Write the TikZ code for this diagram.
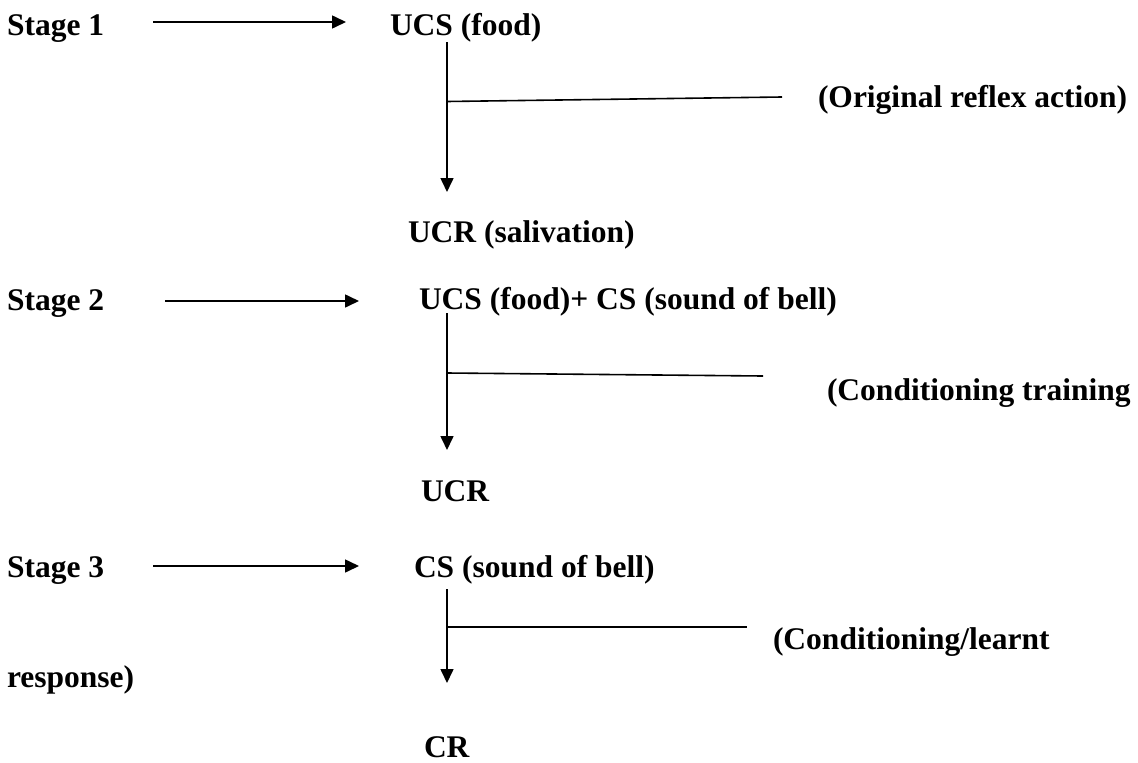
\documentclass[tikz,border=0pt]{standalone}
\usepackage{fontspec}
\setmainfont{Liberation Serif}
\usetikzlibrary{arrows.meta}
\begin{document}
\begin{tikzpicture}[x=1pt,y=-1pt,
  lbl/.style={anchor=base west,inner sep=0pt,outer sep=0pt,font=\fontsize{31.5}{36}\selectfont\bfseries},
  arr/.style={line width=1.6pt,-{Triangle[length=14pt,width=13pt]}},
  plain/.style={line width=1.6pt}]
\useasboundingbox (0,0) rectangle (1138,763);
% Stage 1
\node[lbl] (s1) at (7,35) {Stage 1};
\node[lbl] (ucs1) at (390,35) {UCS (food)};
\node[lbl] (orig) at (818,107) {(Original reflex action)};
\node[lbl] (ucr1) at (408,242) {UCR (salivation)};
\coordinate (a1s) at (153,22);
\coordinate (a1e) at (346,22);
\coordinate (v1s) at (447,42);
\coordinate (v1e) at (447,192);
\coordinate (b1s) at (447,101.5);
\coordinate (b1e) at (782,97);
\draw[arr] (a1s) -- (a1e);
\draw[arr] (v1s) -- (v1e);
\draw[plain] (b1s) -- (b1e);
% Stage 2
\node[lbl] (s2) at (7,310) {Stage 2};
\node[lbl] (ucs2) at (419,309) {UCS (food)+ CS (sound of bell)};
\node[lbl] (cond) at (827,400) {(Conditioning training};
\node[lbl] (ucr2) at (421,501) {UCR};
\coordinate (a2s) at (165,301);
\coordinate (a2e) at (359,301);
\coordinate (v2s) at (447,313);
\coordinate (v2e) at (447,450);
\coordinate (b2s) at (447,373);
\coordinate (b2e) at (763,376);
\draw[arr] (a2s) -- (a2e);
\draw[arr] (v2s) -- (v2e);
\draw[plain] (b2s) -- (b2e);
% Stage 3
\node[lbl] (s3) at (7,577) {Stage 3};
\node[lbl] (cs3) at (414,577) {CS (sound of bell)};
\node[lbl] (learnt) at (773,649) {(Conditioning/learnt};
\node[lbl] (resp) at (7,687) {response)};
\node[lbl] (cr) at (424,757) {CR};
\coordinate (a3s) at (153,566);
\coordinate (a3e) at (359,566);
\coordinate (v3s) at (447,589);
\coordinate (v3e) at (447,683);
\coordinate (b3s) at (447,627);
\coordinate (b3e) at (747,627);
\draw[arr] (a3s) -- (a3e);
\draw[arr] (v3s) -- (v3e);
\draw[plain] (b3s) -- (b3e);
\end{tikzpicture}
\end{document}
